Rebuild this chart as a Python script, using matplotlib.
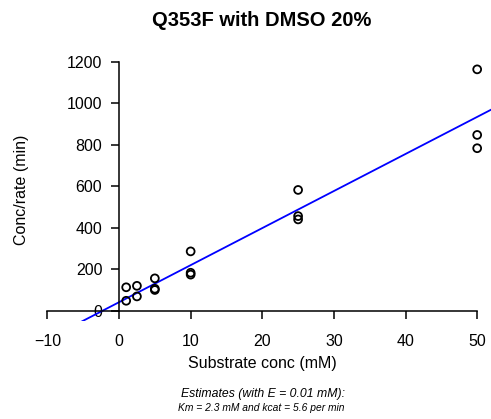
import numpy as np
import matplotlib
matplotlib.use("Agg")
import matplotlib.pyplot as plt

plt.rcParams['font.family'] = ['Liberation Sans', 'DejaVu Sans']

# Hanes-Woolf data: substrate conc (mM) vs conc/rate (min)
substrate = [1, 1, 2.5, 2.5, 5, 5, 5, 10, 10, 10, 25, 25, 25, 50, 50, 50]
conc_rate = [113, 48, 120, 69, 156, 100, 106, 286, 183, 174, 582, 456, 440, 1163, 847, 783]

# fitted parameters
E = 0.01
Km = 2.3
kcat = 5.6
Vmax = kcat * E

xticks = [-10, 0, 10, 20, 30, 40, 50]
yticks = [0, 200, 400, 600, 800, 1000, 1200]

fig = plt.figure(figsize=(4.91, 4.19), dpi=100)
ax = fig.add_axes([0.0615, 0.2346, 0.9385, 0.642])

ax.scatter(substrate, conc_rate, s=32, facecolors='none', edgecolors='black', linewidths=1.3, zorder=3)

# fit line: S/v = Km/Vmax + S/Vmax
xs = np.array([-20, 60])
ax.plot(xs, (xs + Km) / Vmax, color='blue', lw=1.3)

ax.set_xlim(-12.4, 51.93)
ax.set_ylim(-48, 1248)

# axes drawn through the origin, like R's axis(pos=0)
for side in ['top', 'right']:
    ax.spines[side].set_visible(False)
ax.spines['left'].set_position(('data', 0))
ax.spines['bottom'].set_position(('data', 0))
ax.spines['left'].set_bounds(0, 1200)
ax.spines['bottom'].set_bounds(-10, 50)
for side in ['left', 'bottom']:
    ax.spines[side].set_linewidth(1.1)

ax.set_xticks(xticks)
ax.set_yticks(yticks)
ax.set_xticklabels([str(t).replace('-', '\u2212') for t in xticks])
ax.tick_params(axis='both', direction='out', length=6, width=1.1, labelsize=11.5)
ax.tick_params(axis='x', pad=11)
ax.tick_params(axis='y', pad=6)
for lab in ax.get_yticklabels():
    lab.set_clip_on(False)

fig.text(0.0615 + 0.9385 * 0.5 + 0.002, 0.95, 'Q353F with DMSO 20%', ha='center', va='center',
         fontsize=14.5, fontweight='bold')
fig.text(0.535, 1 - 363 / 419, 'Substrate conc (mM)', ha='center', va='center', fontsize=11.5)
fig.text(22 / 491, 1 - 190 / 419, 'Conc/rate (min)', ha='center', va='center', fontsize=11.5,
         rotation=90)
fig.text(0.535, 1 - 394 / 419, 'Estimates (with E = %.2f mM):' % E, ha='center', va='center',
         fontsize=8.8, style='italic')
fig.text(0.532, 1 - 408 / 419, 'Km = %.1f mM and kcat = %.1f per min' % (Km, kcat), ha='center',
         va='center', fontsize=7.4, style='italic')

fig.savefig('out.png', dpi=100)
